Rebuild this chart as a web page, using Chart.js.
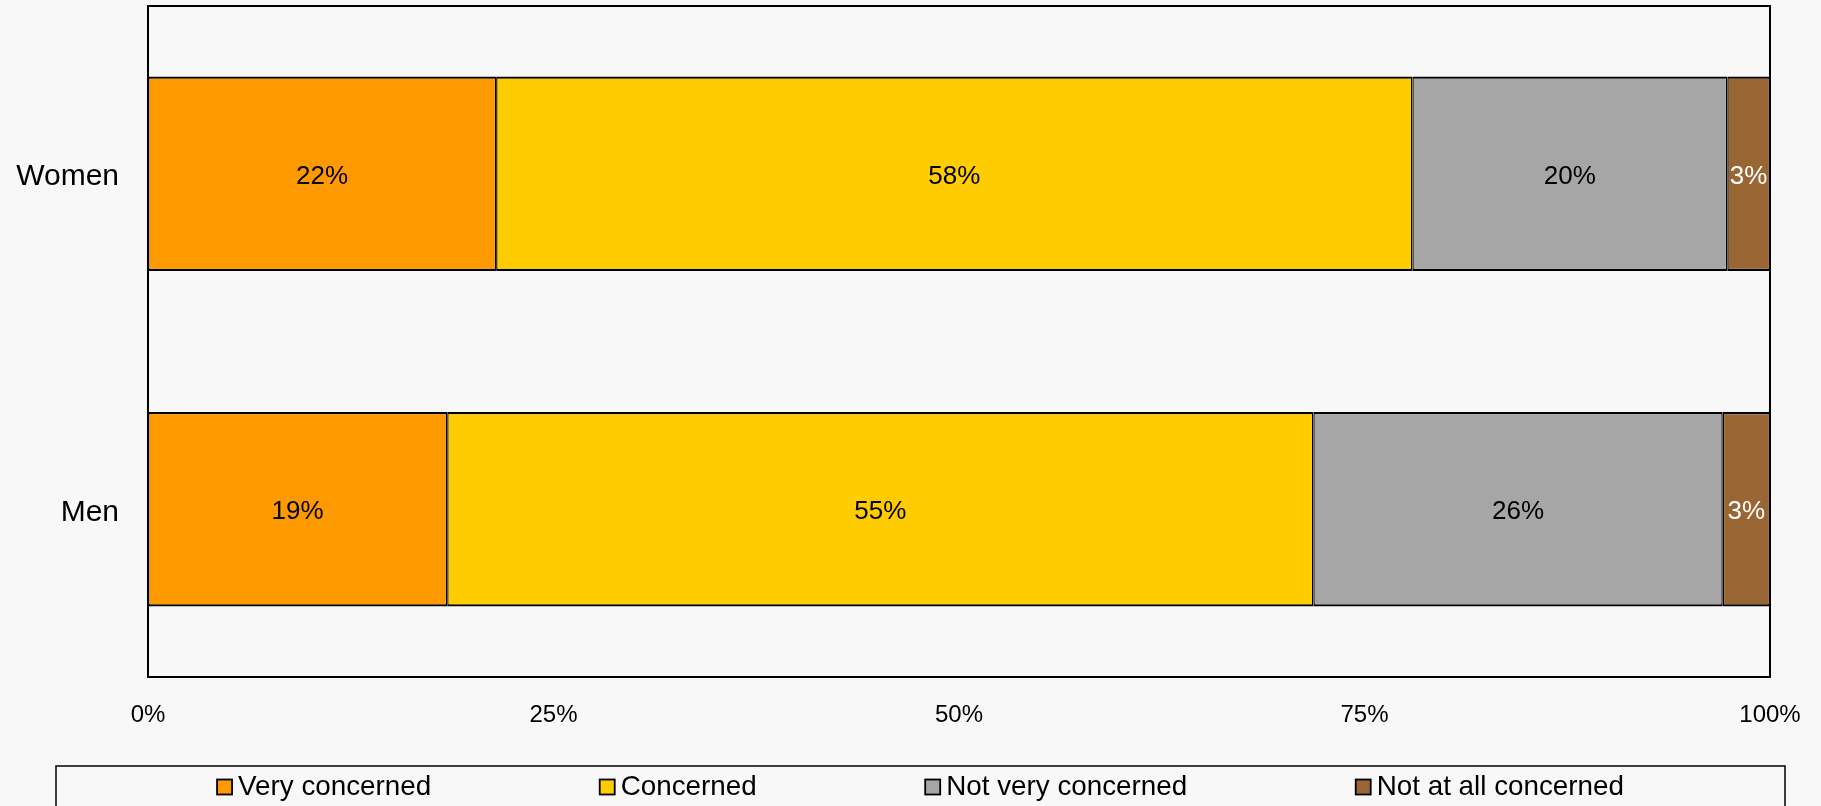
<!DOCTYPE html>
<html>
<head>
<meta charset="utf-8">
<title>Concern by gender</title>
<script src="https://cdn.jsdelivr.net/npm/chart.js@4/dist/chart.umd.min.js"></script>
<style>
    html, body { margin: 0; padding: 0; background: #f8f8f8; overflow: hidden; }
    #wrap { width: 1821px; height: 806px; }
</style>
</head>
<body>
<div id="wrap"><canvas id="concern-chart" width="1821" height="806"></canvas></div>
<script>
// --- data ---
const categories = ['Women', 'Men'];
const seriesNames = ['Very concerned', 'Concerned', 'Not very concerned', 'Not at all concerned'];
const veryConcerned = [22.0, 19];
const concerned = [57.9, 55];
const notVeryConcerned = [19.9, 26];
const notAtAllConcerned = [2.7, 3];
const xTickValues = [0, 25, 50, 75, 100];

const seriesColors = ['#ff9900', '#ffcc00', '#a6a6a6', '#996633'];
const labelColors = ['#000000', '#000000', '#000000', '#ffffff'];
const FONT = '"Liberation Sans", Arial, sans-serif';

const ConcernChart = {
    chart: null,

    init() {
        const series = [veryConcerned, concerned, notVeryConcerned, notAtAllConcerned];
        // 100% stacked: each row is scaled to its own total
        const totals = categories.map((c, i) => series.reduce((sum, s) => sum + s[i], 0));

        const datasets = series.map((values, k) => ({
            label: seriesNames[k],
            data: values.map((v, i) => v / totals[i] * 100),
            rawValues: values,
            labelColor: labelColors[k],
            backgroundColor: seriesColors[k],
            borderColor: '#000000',
            borderWidth: { top: 2.2, bottom: 2.2, left: 1.4, right: 1.4 },
            borderSkipped: false,
            categoryPercentage: 1,
            barPercentage: 0.58
        }));

        const ctx = document.getElementById('concern-chart').getContext('2d');
        this.chart = new Chart(ctx, {
            type: 'bar',
            data: { labels: categories, datasets: datasets },
            options: this.getOptions(),
            plugins: [this.backgroundPlugin, this.segmentLabelPlugin, this.framePlugin, this.legendPlugin]
        });
    },

    getOptions() {
        return {
            indexAxis: 'y',
            responsive: false,
            animation: false,
            devicePixelRatio: 1,
            layout: { padding: { left: 0, top: 6, right: 51, bottom: 0 } },
            plugins: {
                legend: { display: false },
                tooltip: { enabled: false },
                title: { display: false }
            },
            scales: {
                x: {
                    stacked: true,
                    min: 0,
                    max: 100,
                    grid: { display: false, drawTicks: false, tickLength: 0 },
                    border: { display: false },
                    afterBuildTicks: (axis) => { axis.ticks = xTickValues.map(v => ({ value: v })); },
                    afterFit: (axis) => {
                        axis.height = 129;
                        axis.paddingLeft = 0;
                        axis.paddingRight = 0;
                    },
                    ticks: {
                        padding: 24,
                        maxRotation: 0,
                        color: '#000000',
                        font: { family: FONT, size: 24 },
                        callback: (v) => v + '%'
                    }
                },
                y: {
                    stacked: true,
                    grid: { display: false, drawTicks: false, tickLength: 0 },
                    border: { display: false },
                    afterFit: (axis) => {
                        axis.width = 148;
                        axis.paddingTop = 0;
                        axis.paddingBottom = 0;
                    },
                    ticks: {
                        padding: 29,
                        labelOffset: 3,
                        color: '#000000',
                        font: { family: FONT, size: 30 }
                    }
                }
            }
        };
    },

    backgroundPlugin: {
        id: 'bg',
        beforeDraw(chart) {
            const c = chart.ctx;
            c.save();
            c.fillStyle = '#f8f8f8';
            c.fillRect(0, 0, chart.width, chart.height);
            c.restore();
        }
    },

    segmentLabelPlugin: {
        id: 'segmentLabels',
        afterDatasetsDraw(chart) {
            const c = chart.ctx;
            c.save();
            c.font = '26px ' + FONT;
            c.textAlign = 'center';
            c.textBaseline = 'middle';
            chart.data.datasets.forEach((ds, k) => {
                chart.getDatasetMeta(k).data.forEach((bar, i) => {
                    const p = bar.getProps(['x', 'y', 'base'], true);
                    c.fillStyle = ds.labelColor;
                    c.fillText(Math.round(ds.rawValues[i]) + '%', (p.x + p.base) / 2, p.y + 3);
                });
            });
            c.restore();
        }
    },

    framePlugin: {
        id: 'plotFrame',
        afterDatasetsDraw(chart) {
            const a = chart.chartArea;
            const c = chart.ctx;
            c.save();
            c.strokeStyle = '#000000';
            c.lineWidth = 2;
            c.strokeRect(a.left, a.top, a.right - a.left, a.bottom - a.top);
            c.restore();
        }
    },

    legendPlugin: {
        id: 'boxLegend',
        afterDraw(chart) {
            const c = chart.ctx;
            const boxLeft = 56, boxRight = 1785, boxTop = 766;
            const markSize = 15, markGap = 6, itemGap = 168.5;
            c.save();
            c.strokeStyle = '#000000';
            c.lineWidth = 1.5;
            c.strokeRect(boxLeft, boxTop, boxRight - boxLeft, 80);

            c.font = '27.8px ' + FONT;
            c.textBaseline = 'middle';
            c.textAlign = 'left';
            const items = chart.data.datasets.map(ds => ({
                text: ds.label,
                color: ds.backgroundColor,
                width: markSize + markGap + c.measureText(ds.label).width
            }));
            const total = items.reduce((s, it) => s + it.width, 0) + itemGap * (items.length - 1);
            let x = (boxLeft + boxRight) / 2 - total / 2;
            const cy = 787;
            items.forEach(it => {
                c.fillStyle = it.color;
                c.fillRect(x, cy - markSize / 2, markSize, markSize);
                c.lineWidth = 1.8;
                c.strokeRect(x, cy - markSize / 2, markSize, markSize);
                c.fillStyle = '#000000';
                c.fillText(it.text, x + markSize + markGap, cy);
                x += it.width + itemGap;
            });
            c.restore();
        }
    }
};

document.addEventListener('DOMContentLoaded', () => ConcernChart.init());
</script>
</body>
</html>
